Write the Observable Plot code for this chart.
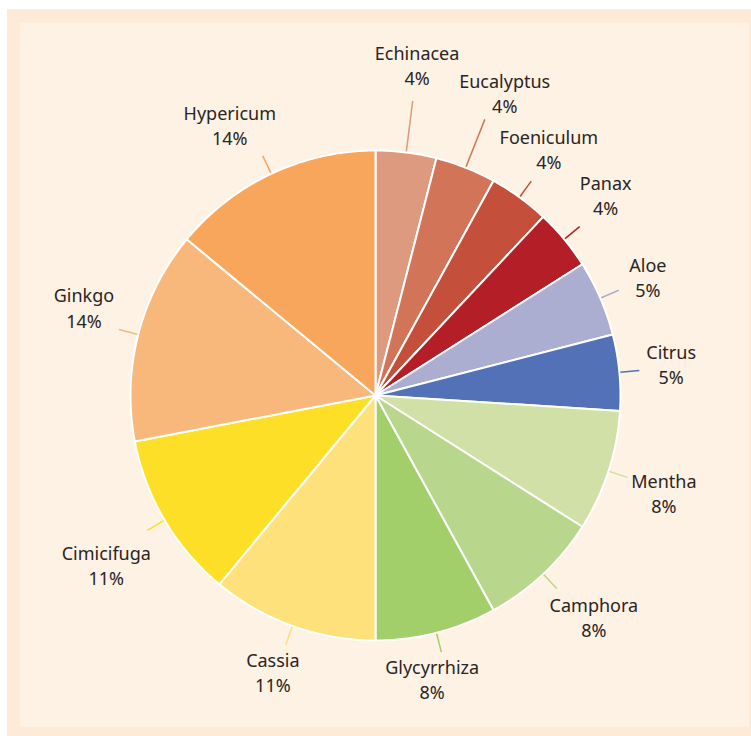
<!DOCTYPE html>
<html><head><meta charset="utf-8">
<script src="https://cdn.jsdelivr.net/npm/d3@7"></script>
<script src="https://cdn.jsdelivr.net/npm/@observablehq/plot@0.6"></script>
<style>
body{margin:0;background:#fff;}
#wrap{position:relative;width:751px;height:736px;overflow:hidden;}
#outer{position:absolute;left:7px;top:9px;right:0;bottom:0;background:#fdebd8;}
#inner{position:absolute;left:20px;top:23px;width:729px;height:704px;background:#fdf2e3;}
#chart{position:absolute;left:0;top:0;}
</style></head><body>
<div id="wrap"><div id="outer"></div><div id="inner"></div><div id="chart"></div></div>
<script>
// Data
const categories = ["Echinacea","Eucalyptus","Foeniculum","Panax","Aloe","Citrus","Mentha","Camphora","Glycyrrhiza","Cassia","Cimicifuga","Ginkgo","Hypericum"];
const shares = [4,4,4,4,5,5,8,8,8,11,11,14,14];
const colors = ["#dd9a7e","#d17457","#c4503b","#b41e26","#abaed0","#5271b6","#d1e0a6","#b9d78c","#a3cf6b","#fee17a","#fedf27","#f9b87b","#f7a65b"];

// Label layout tweaks (leader length and small offsets from the radial position)
const longLeaders = ["Echinacea","Eucalyptus"];
const labelNudge = {
  Echinacea: [0, 0], Eucalyptus: [7, 8], Foeniculum: [-3, -2], Panax: [-1, -8],
  Aloe: [-3, 2], Citrus: [-3, -2], Mentha: [3, 6], Camphora: [13, 4],
  Glycyrrhiza: [-18, -6], Cassia: [-1, -4], Cimicifuga: [-11, 18], Ginkgo: [-1, -12], Hypericum: [-18, 2]
};

// Layout
const W = 751, H = 736, cx = 375, cy = 395, R = 245;
const data = categories.map((name, i) => ({name, value: shares[i]}));
const arcs = d3.pie().sort(null).value(d => d.value)(data);
const px = (a, r) => cx + r * Math.sin(a);
const py = (a, r) => cy - r * Math.cos(a);

const slicePts = [];
for (const a of arcs) {
  const n = Math.max(2, Math.ceil((a.endAngle - a.startAngle) / 0.01));
  slicePts.push({name: a.data.name, x: cx, y: cy});
  for (let k = 0; k <= n; k++) {
    const t = a.startAngle + (a.endAngle - a.startAngle) * k / n;
    slicePts.push({name: a.data.name, x: px(t, R), y: py(t, R)});
  }
}
const leaders = arcs.map(a => {
  const m = (a.startAngle + a.endAngle) / 2;
  const len = longLeaders.includes(a.data.name) ? 52 : 20;
  const [nx, ny] = labelNudge[a.data.name] || [0, 0];
  return {name: a.data.name, value: a.data.value, m,
    x1: px(m, R + 1), y1: py(m, R + 1),
    x2: px(m, R + len), y2: py(m, R + len),
    lx: px(m, R + len + 35) + nx, ly: py(m, R + len + 35) + ny};
});

const chart = Plot.plot({
  width: W, height: H, margin: 0,
  x: {domain: [0, W], range: [0, W], axis: null},
  y: {domain: [0, H], range: [0, H], axis: null},
  color: {domain: categories, range: colors},
  style: {background: "transparent", overflow: "visible"},
  marks: [
    Plot.line(slicePts, {x: "x", y: "y", z: "name", fill: "name", stroke: "white", strokeWidth: 2, curve: "linear-closed", strokeLinejoin: "round"}),
    Plot.link(leaders, {x1: "x1", y1: "y1", x2: "x2", y2: "y2", stroke: "name", strokeWidth: 1.5}),
    Plot.text(leaders, {x: "lx", y: "ly", dy: -2, text: d => `${d.name}\n${d.value}%`, fontSize: 18, lineHeight: 1.4, fill: "#2a2525", fontFamily: "Noto Sans", lineAnchor: "middle", textAnchor: "middle"})
  ]
});
document.getElementById("chart").appendChild(chart);
</script>
</body></html>
